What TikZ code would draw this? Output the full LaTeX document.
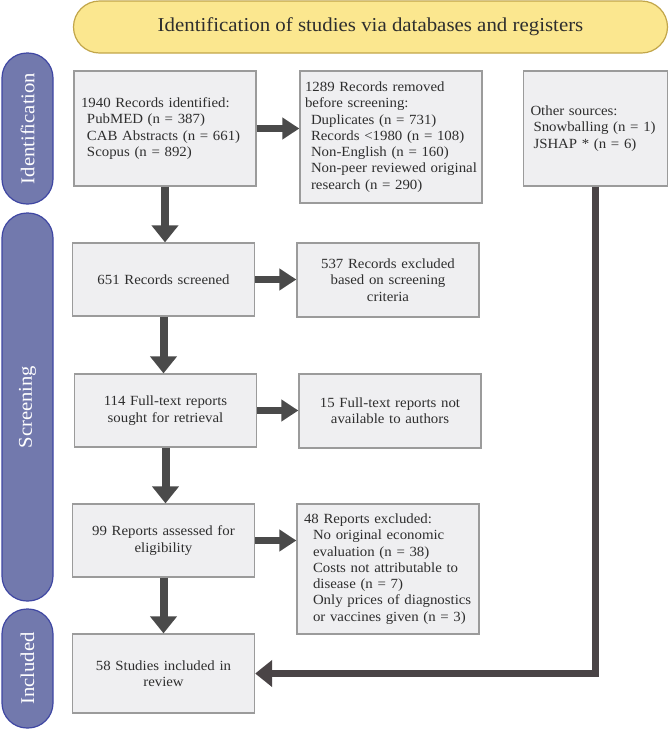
\documentclass[tikz,border=0pt]{standalone}
\usepackage{fontspec}
\setmainfont{Liberation Serif}[FakeStretch=1.06]
\usetikzlibrary{arrows.meta}
\definecolor{boxfill}{HTML}{EFEFF1}
\definecolor{boxdraw}{HTML}{9B9B9B}
\definecolor{arrowc}{HTML}{4A4A4A}
\definecolor{returnc}{HTML}{4A4446}
\definecolor{bannerfill}{HTML}{FBE78F}
\definecolor{bannerdraw}{HTML}{C2A64A}
\definecolor{pillfill}{HTML}{7279AD}
\definecolor{pilldraw}{HTML}{3F47A3}
\definecolor{txt}{HTML}{2E2E2E}
\begin{document}
\begin{tikzpicture}[x=1pt,y=-1pt,
  box/.style={draw=boxdraw, fill=boxfill, line width=1.3pt, inner xsep=5pt, inner ysep=0pt,
    text width=172pt, text=txt, font=\fontsize{14}{16.3}\selectfont, anchor=center},
  lbox/.style={box, align=left},
  cbox/.style={box, align=center},
  pill/.style={draw=pilldraw, fill=pillfill, line width=1.2pt, rounded corners=25pt,
    rotate=90, minimum height=51pt, inner sep=0pt, text=white,
    font=\fontsize{19.5}{22}\selectfont, anchor=center},
  harrow/.style={draw=arrowc, line width=7.5pt, -{Triangle[width=21pt,length=17pt]}},
  varrow/.style={draw=arrowc, line width=8pt, -{Triangle[width=26pt,length=17pt]}},
  rarrow/.style={draw=returnc, line width=7pt, -{Triangle[width=26pt,length=17pt]}}
]
\useasboundingbox (0,0) rectangle (669,729);

% banner
\node[draw=bannerdraw, fill=bannerfill, line width=1.2pt, rounded corners=26pt,
  minimum width=594pt, minimum height=52pt, inner sep=0pt, text=txt,
  font=\fontsize{19.7}{22}\selectfont] (banner) at (370.5,27)
  {Identification of studies via databases and registers};

% phase pills
\node[pill, minimum width=151pt] (pid) at (27.5,128.5) {Identification};
\node[pill, minimum width=388pt] (pscr) at (27.5,407) {Screening};
\node[pill, minimum width=119pt] (pinc) at (27.5,668.5) {Included};

% boxes
\node[lbox, inner xsep=7pt, text width=168pt, minimum width=182pt, minimum height=115pt] (b1) at (165,128.5)
  {1940 Records identified:\\
   \hspace*{6pt}PubMED (n = 387)\\
   \hspace*{6pt}CAB Abstracts (n = 661)\\
   \hspace*{6pt}Scopus (n = 892)};
\node[lbox, minimum width=182pt, minimum height=132pt] (b2) at (391,137)
  {1289 Records removed\\
   before screening:\\
   \hspace*{6pt}Duplicates (n = 731)\\
   \hspace*{6pt}Records <1980 (n = 108)\\
   \hspace*{6pt}Non-English (n = 160)\\
   \hspace*{6pt}Non-peer reviewed original\\
   \hspace*{6pt}research (n = 290)};
\node[lbox, inner xsep=7pt, text width=130pt, minimum width=143pt, minimum height=115pt] (b3) at (595.5,128.5)
  {Other sources:\\
   \hspace*{3pt}Snowballing (n = 1)\\
   \hspace*{3pt}JSHAP * (n = 6)};

\node[cbox, minimum width=181pt, minimum height=73pt] (b651) at (163.5,279.5)
  {651 Records screened};
\node[cbox, minimum width=182pt, minimum height=74pt] (b537) at (388,280)
  {537 Records excluded\\ based on screening\\ criteria};

\node[cbox, minimum width=181pt, minimum height=73pt] (b114) at (165.5,410.5)
  {114 Full-text reports\\ sought for retrieval};
\node[cbox, minimum width=182pt, minimum height=74pt] (b15) at (390,411)
  {15 Full-text reports not\\ available to authors};

\node[cbox, minimum width=181pt, minimum height=73pt] (b99) at (163.5,540.5)
  {99 Reports assessed for\\ eligibility};
\node[lbox, inner xsep=7pt, text width=168pt, minimum width=182pt, minimum height=130pt] (b48) at (388,569)
  {48 Reports excluded:\\
   \hspace*{9pt}No original economic\\
   \hspace*{9pt}evaluation (n = 38)\\
   \hspace*{9pt}Costs not attributable to\\
   \hspace*{9pt}disease (n = 7)\\
   \hspace*{9pt}Only prices of diagnostics\\
   \hspace*{9pt}or vaccines given (n = 3)};

\node[cbox, minimum width=181pt, minimum height=79pt] (b58) at (163.5,673.5)
  {58 Studies included in\\ review};

% connectors
\draw[harrow] (b1.east) -- (b1.east -| b2.west);
\draw[harrow] (b651.east) -- (b651.east -| b537.west);
\draw[harrow] (b114.east) -- (b114.east -| b15.west);
\draw[harrow] (b99.east) -- (b99.east -| b48.west);

\draw[varrow] (b1.south) -- (b1.south |- b651.north);
\draw[varrow] (b651.south) -- (b651.south |- b114.north);
\draw[varrow] (b114.south) -- (b114.south |- b99.north);
\draw[varrow] (b99.south) -- (b99.south |- b58.north);

\draw[rarrow] (b3.south) -- (b3.south |- b58.east) -- (b58.east);
\end{tikzpicture}
\end{document}
